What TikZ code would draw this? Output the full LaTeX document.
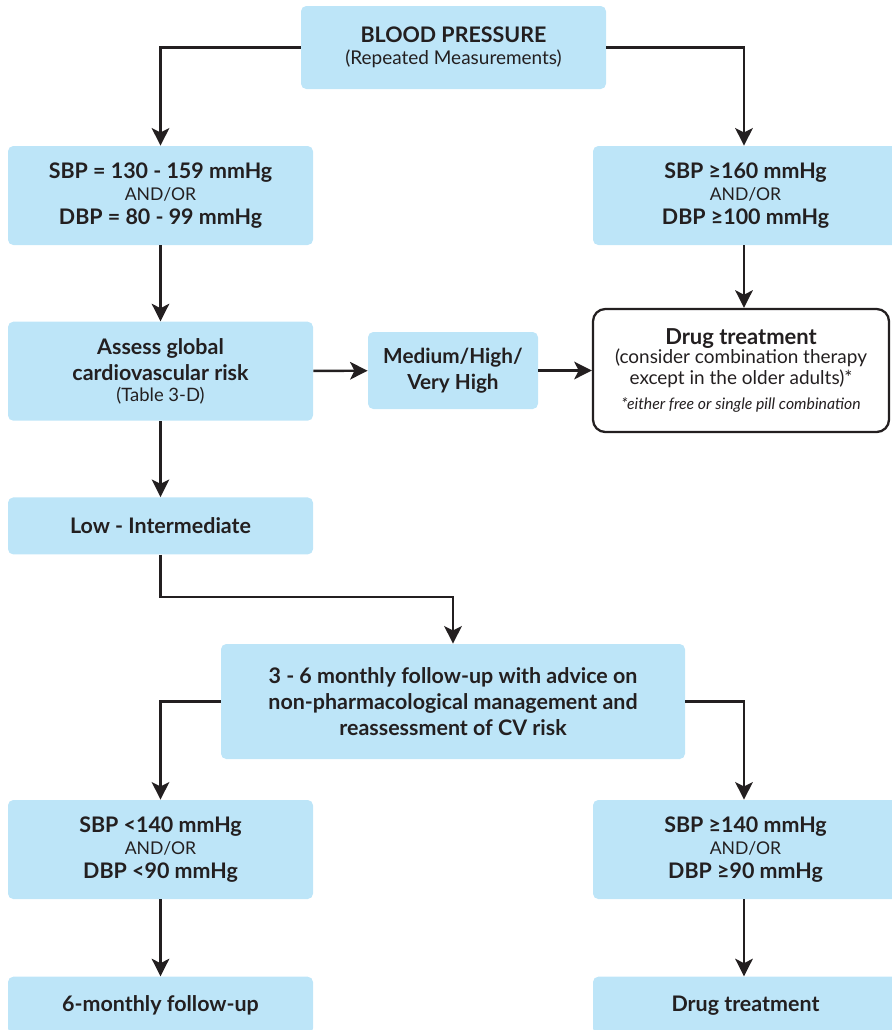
\documentclass[tikz,border=0pt]{standalone}
\usepackage{fontspec}
\setmainfont{Lato}
\usepackage{tikz}
\usetikzlibrary{arrows.meta,positioning,calc}
\definecolor{bpblue}{HTML}{BDE5F8}
\definecolor{inkdark}{HTML}{231F20}
\tikzset{
  stepbox/.style={rectangle,rounded corners=3pt,minimum width=6.1cm,minimum height=#1,
    draw=none,fill=bpblue,text=inkdark,align=center,inner sep=2pt,
    font=\fontsize{12.2}{14.8}\selectfont\bfseries},
  stepbox/.default={1.98cm},
  drugbox/.style={rectangle,rounded corners=7pt,minimum width=5.92cm,minimum height=2.46cm,
    draw=inkdark,fill=white,text=inkdark,align=center,line width=1.3pt,inner sep=2pt},
  myarrow/.style={-{Stealth[length=10pt,width=10pt,inset=2.5pt]},line width=1.4pt,draw=inkdark},
}
\newcommand{\andor}{\\[-2pt]{\fontsize{10}{11.5}\selectfont\mdseries AND/OR}\\[-1pt]}

\begin{document}
\begin{tikzpicture}
  \useasboundingbox (0,0) rectangle (17.84,-20.6);
  \node[stepbox=1.66cm] (bp) at (9.07,-0.95) {
    BLOOD PRESSURE\\[-2pt]{\fontsize{10.8}{12.5}\selectfont\mdseries (Repeated Measurements)}};
  \node[stepbox] (sbpa) at (3.21,-3.91) {SBP = 130 - 159 mmHg\andor DBP = 80 - 99 mmHg};
  \node[stepbox] (sbpb) at (14.91,-3.91) {SBP ≥160 mmHg\andor DBP ≥100 mmHg};
  \node[stepbox,below=1.52cm of sbpa] (assess) {
    Assess global\\cardiovascular risk\\[-3pt]{\fontsize{10.5}{12}\selectfont\mdseries (Table 3-D)}};
  \node[stepbox,minimum width=3.4cm,minimum height=1.54cm,
    font=\fontsize{11.8}{14.8}\selectfont\bfseries] (medium) at (9.06,-7.41) {
    Medium/High/\\Very High};
  \node[drugbox] (drug) at (14.82,-7.41) {
    {\fontsize{12.5}{14.5}\selectfont\bfseries Drug treatment}\\[-1pt]
    {\fontsize{10.8}{12.8}\selectfont (consider combination therapy}\\
    {\fontsize{10.8}{12.8}\selectfont except in the older adults)*}\\[2pt]
    {\fontsize{9}{10}\selectfont\itshape *either free or single pill combination}};
  \node[stepbox=1.14cm,below=1.52cm of assess] (low) {Low - Intermediate};
  \node[stepbox=2.3cm,minimum width=9.28cm] (follow) at (9.06,-14.03) {
    3 - 6 monthly follow-up with advice on\\non-pharmacological management and\\reassessment of CV risk};
  \node[stepbox] (sbpc) at (3.21,-16.99) {SBP <140 mmHg\andor DBP <90 mmHg};
  \node[stepbox] (sbpd) at (14.91,-16.99) {SBP ≥140 mmHg\andor DBP ≥90 mmHg};
  \node[stepbox=1.14cm,below=1.54cm of sbpc] (monthly) {6-monthly follow-up};
  \node[stepbox=1.14cm,below=1.54cm of sbpd] (drugb) {Drug treatment};

  \draw[myarrow] (bp.west) -| (sbpa.north);
  \draw[myarrow] (bp.east) -| ([xshift=-0.03cm]sbpb.north);
  \draw[myarrow] (sbpa) -- (assess);
  \draw[myarrow] ([xshift=-0.03cm]sbpb.south) -- ([xshift=-0.03cm]sbpb.south |- drug.north);
  \draw[myarrow] (assess) -- (medium);
  \draw[myarrow] (medium) -- (drug);
  \draw[myarrow] (assess) -- (low);
  \draw[myarrow] (low.south) -- ++(0,-0.84) -| (follow.north);
  \draw[myarrow] (follow.west) -| (sbpc.north);
  \draw[myarrow] (follow.east) -| ([xshift=-0.03cm]sbpd.north);
  \draw[myarrow] (sbpc) -- (monthly);
  \draw[myarrow] ([xshift=-0.03cm]sbpd.south) -- ([xshift=-0.03cm]drugb.north);
\end{tikzpicture}
\end{document}
